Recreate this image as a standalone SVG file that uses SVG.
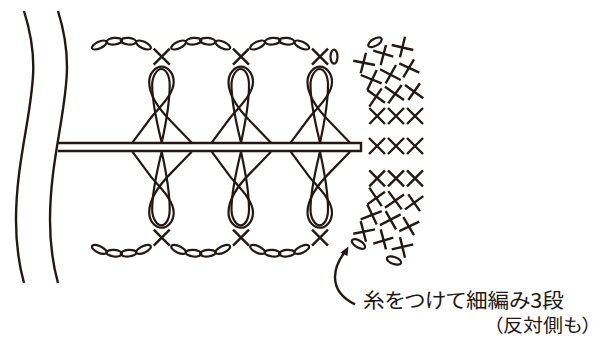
<svg xmlns="http://www.w3.org/2000/svg" xmlns:xlink="http://www.w3.org/1999/xlink" width="593" height="337" viewBox="0 0 593 337">
<style>
.s{fill:none;stroke:#231815;stroke-width:2.4;stroke-linecap:butt}
.c{fill:none;stroke:#231815;stroke-width:2.2}
.t{font-family:"Noto Sans CJK JP","Noto Sans",sans-serif;font-size:20px;fill:#231815;font-feature-settings:"palt"}
.u{font-size:18.5px}
</style>
<defs>
<g id="x"><path class="s" d="M-8,-8L8,8M8,-8L-8,8"/></g>
<g id="chain" class="c">
<ellipse cx="99.3" cy="45" rx="8" ry="3.3" transform="rotate(-25 99.3 45)"/>
<ellipse cx="114.3" cy="41.2" rx="7.8" ry="3.3" transform="rotate(-5 114.3 41.2)"/>
<ellipse cx="128.5" cy="41.2" rx="7.8" ry="3.3" transform="rotate(5 128.5 41.2)"/>
<ellipse cx="143.5" cy="45" rx="8" ry="3.3" transform="rotate(25 143.5 45)"/>
</g>
<g id="loop">
<path class="c" d="M-29.3,142.7L-11,118C-4,109 12,95 12,82C12,73 6,66.7 0,66.7C-6,66.7 -12.5,73 -12.5,82C-12.5,94 -4,108 10,122L30,142.7"/>
<path class="c" d="M0,142.7C-3,130 -9.5,105 -9.5,85C-9.5,75 -4,69 -0.5,69C4,69 8,75 8,85C8,100 5,120 0,142.7"/>
</g>
<g id="unit">
<use xlink:href="#chain" href="#chain"/>
<use xlink:href="#x" href="#x" x="161.7" y="56.7"/>
<use xlink:href="#loop" href="#loop" x="161.7"/>
</g>
<g id="fan" class="s">
<path d="M353.3,60.7L375,65M366,52.7L360.7,73.3"/>
<path d="M373.3,50.7L393.3,56.7M386,45L380.7,65"/>
<path d="M391.7,45L413.3,50M405,36.7L400,57.3"/>
<path d="M360.7,75L381.7,83.3M376.7,70L367.3,90"/>
<path d="M380,69.3L400.7,80M396,65L385.7,83.3"/>
<path d="M399.3,63.3L419.3,72.7M414,59.3L403.3,77.3"/>
<path d="M367.3,90L385,102.7M381.7,88.3L369.3,106.7"/>
<path d="M385,86.7L404,100M401.7,85L388.3,103.3"/>
<path d="M405,85L423.3,98.3M420,83.3L408.3,100"/>
<path d="M369.3,108L385,124M385,108L369.3,124"/>
<path d="M388,108L404,124M404,108L388,124"/>
<path d="M407,108L423,124M423,108L407,124"/>
</g>
</defs>
<g id="fabric-edge">
<path class="s" d="M24,11C30,30 33.3,48 33.3,67C33.3,110 16,160 16,220C16,245 19,265 24,283"/>
<path class="s" d="M58,11C64,30 67,48 67,67C67,110 50,160 50,220C50,245 53,265 58,283"/>
</g>
<g id="bar"><path class="s" d="M57,143H361V151H58"/></g>
<g id="top-row">
<use xlink:href="#unit" href="#unit"/>
<use xlink:href="#unit" href="#unit" x="79.3"/>
<use xlink:href="#unit" href="#unit" x="158.3"/>
<ellipse class="c" cx="334" cy="56.7" rx="3.5" ry="7"/>
</g>
<g id="bottom-row" transform="matrix(1 0 0 -1 0 294.4)">
<use xlink:href="#unit" href="#unit"/>
<use xlink:href="#unit" href="#unit" x="79.3"/>
<use xlink:href="#unit" href="#unit" x="158.3"/>
</g>
<g id="edge-top">
<use xlink:href="#fan" href="#fan"/>
<ellipse class="c" cx="375" cy="42.3" rx="7.5" ry="3.5" transform="rotate(-30 375 42.3)"/>
</g>
<g id="edge-middle">
<use xlink:href="#x" href="#x" x="377" y="146"/>
<use xlink:href="#x" href="#x" x="396" y="146"/>
<use xlink:href="#x" href="#x" x="415" y="146"/>
</g>
<g id="edge-bottom">
<use xlink:href="#fan" href="#fan" transform="matrix(1 0 0 -1 0 294.4)"/>
<ellipse class="c" cx="358.5" cy="244" rx="7.5" ry="3.5" transform="rotate(30 358.5 244)"/>
<ellipse class="c" cx="394" cy="260.5" rx="7.5" ry="3.5" transform="rotate(20 394 260.5)"/>
</g>
<g id="connectors">
<path class="s" d="M355,304.3C342,298 335,290 335,277C335,268 339,260 344,253"/>
<path d="M348.5,246.5L340.5,252.5L347.5,256Z" fill="#231815"/>
</g>
<g id="label">
<text class="t" x="363" y="308" textLength="201" lengthAdjust="spacingAndGlyphs">糸をつけて細編み3段</text>
<text class="t u" x="493" y="332" textLength="99" lengthAdjust="spacingAndGlyphs">（反対側も）</text>
</g>
</svg>
